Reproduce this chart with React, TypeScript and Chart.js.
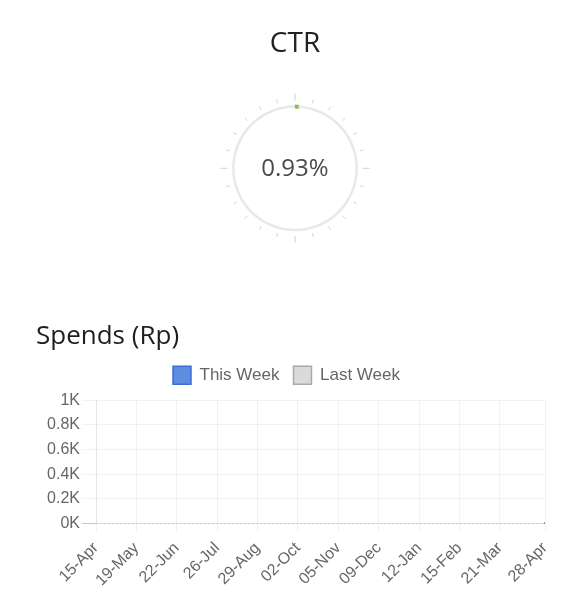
import { useEffect, useRef } from "react";
import { Chart, registerables } from "chart.js";

Chart.register(...registerables);

Chart.defaults.font.family = "'Liberation Sans', Arial, sans-serif";
Chart.defaults.color = "#666";

// gauge
const ctrTitle = "CTR";
const ctrValue = 0.93; // percent
const ctrMax = 100;

// spends chart
const spendsTitle = "Spends (Rp)";
const seriesNames = ["This Week", "Last Week"];
const tickLabels = [
  "15-Apr", "19-May", "22-Jun", "26-Jul", "29-Aug", "02-Oct",
  "05-Nov", "09-Dec", "12-Jan", "15-Feb", "21-Mar", "28-Apr",
];
// days since 15-Apr for each date label
const tickDays = [0, 34, 68, 102, 136, 170, 204, 238, 272, 306, 340, 378];
const thisWeek = [0, 0, 0, 0, 0, 0, 0, 0, 0, 0, 0, 0];
const lastWeek = [0, 0, 0, 0, 0, 0, 0, 0, 0, 0, 0, 0];
const yMax = 1000;
const yStep = 200;

const BLUE_FILL = "#5b8ee0";
const BLUE_LINE = "#3a6fd6";
const GREY_FILL = "#dadada";
const GREY_LINE = "#aaaaaa";

const gaugeDecor = {
  id: "gaugeDecor",
  afterDraw(chart: any) {
    const arc = chart.getDatasetMeta(0).data[0];
    if (!arc) return;
    const { x, y, outerRadius, innerRadius } = arc.getProps(
      ["x", "y", "outerRadius", "innerRadius"],
      true
    );
    const r = (outerRadius + innerRadius) / 2;
    const ctx = chart.ctx;
    ctx.save();
    ctx.strokeStyle = "#d2d2d2";
    ctx.lineWidth = 1;
    for (let i = 0; i < 24; i++) {
      const a = -Math.PI / 2 + (i * Math.PI) / 12;
      const major = i % 6 === 0;
      const r1 = r + (major ? 6 : 5.5);
      const r2 = r + (major ? 13 : 9.5);
      ctx.beginPath();
      ctx.moveTo(x + Math.cos(a) * r1, y + Math.sin(a) * r1);
      ctx.lineTo(x + Math.cos(a) * r2, y + Math.sin(a) * r2);
      ctx.stroke();
    }
    ctx.fillStyle = "#4a4a4a";
    ctx.font = "24px 'Open Sans'";
    ctx.textAlign = "center";
    ctx.textBaseline = "middle";
    ctx.fillText(`${ctrValue}%`, x, y + 1);
    ctx.restore();
  },
};

// a little more room under the legend, and nudge it left
const legendSpacing = {
  id: "legendSpacing",
  beforeInit(chart: any) {
    const legend = chart.legend;
    if (!legend) return;
    const fit = legend.fit;
    legend.fit = function () {
      fit.call(this);
      this.height += 6;
      if (this.lineWidths) this.lineWidths[0] += 8;
    };
  },
};

function CtrGauge() {
  const ref = useRef<HTMLCanvasElement>(null);
  useEffect(() => {
    if (!ref.current) return;
    const chart = new Chart(ref.current, {
      type: "doughnut",
      data: {
        labels: ["CTR", "Rest"],
        datasets: [
          {
            data: [ctrValue, ctrMax - ctrValue],
            backgroundColor: ["#8cc152", "#e8e8e8"],
            borderColor: ["#8cc152", "#e8e8e8"],
            borderWidth: [1.5, 0],
          },
        ],
      },
      options: {
        animation: false,
        responsive: true,
        maintainAspectRatio: false,
        cutout: "96%",
        layout: { padding: { left: 6, right: 0, top: 0, bottom: 56 } },
        plugins: {
          legend: { display: false },
          tooltip: { enabled: false },
          title: {
            display: true,
            text: ctrTitle,
            color: "#222",
            font: { family: "'Open Sans'", size: 28, weight: "normal" },
            padding: { top: 19, bottom: 44 },
          },
        },
      },
      plugins: [gaugeDecor],
    });
    return () => chart.destroy();
  }, []);
  return (
    <div style={{ position: "relative", height: 280 }}>
      <canvas ref={ref} />
    </div>
  );
}

function SpendsChart() {
  const ref = useRef<HTMLCanvasElement>(null);
  useEffect(() => {
    if (!ref.current) return;
    const lastIdx = tickDays.length - 1;
    const chart = new Chart(ref.current, {
      type: "line",
      data: {
        datasets: [
          {
            label: seriesNames[0],
            data: tickDays.map((d, i) => ({ x: d, y: thisWeek[i] })),
            borderColor: "rgba(90,130,210,0.35)",
            backgroundColor: BLUE_FILL,
            borderWidth: 1,
            borderDash: [2, 2],
            pointRadius: (c: any) => (c.dataIndex === lastIdx ? 1.5 : 0),
            pointBackgroundColor: "#5a6f9a",
            pointBorderWidth: 0,
            fill: false,
          },
          {
            label: seriesNames[1],
            data: tickDays.map((d, i) => ({ x: d, y: lastWeek[i] })),
            borderColor: "rgba(200,200,200,0.2)",
            backgroundColor: GREY_FILL,
            borderWidth: 1,
            pointRadius: 0,
            fill: false,
          },
        ],
      },
      options: {
        animation: false,
        responsive: true,
        maintainAspectRatio: false,
        layout: { padding: { left: 28, right: 31, top: 0, bottom: 11 } },
        plugins: {
          tooltip: { enabled: false },
          title: {
            display: true,
            text: spendsTitle,
            align: "start",
            color: "#1e1e1e",
            font: { family: "'Open Sans'", size: 26, weight: "normal" },
            padding: { top: 33, bottom: 0 },
          },
          legend: {
            labels: {
              boxWidth: 18,
              boxHeight: 18,
              padding: 14,
              color: "#666",
              font: { size: 17 },
              generateLabels: () =>
                seriesNames.map((name, i) => ({
                  text: name,
                  fillStyle: i === 0 ? BLUE_FILL : GREY_FILL,
                  strokeStyle: i === 0 ? BLUE_LINE : GREY_LINE,
                  fontColor: "#666",
                  lineWidth: 1.5,
                  lineDash: [],
                  hidden: false,
                  datasetIndex: i,
                })),
            },
          },
        },
        scales: {
          x: {
            type: "linear",
            min: tickDays[0],
            max: tickDays[lastIdx],
            afterBuildTicks: (axis: any) => {
              axis.ticks = tickDays.map((v) => ({ value: v }));
            },
            ticks: {
              autoSkip: false,
              minRotation: 45,
              maxRotation: 45,
              padding: 7,
              color: "#666",
              font: { size: 16 },
              callback: (v: any) => tickLabels[tickDays.indexOf(Number(v))] ?? "",
            },
            grid: { color: "rgba(0,0,0,0.05)", tickLength: 8 },
            border: { color: "rgba(0,0,0,0.05)" },
          },
          y: {
            min: 0,
            max: yMax,
            afterFit: (axis: any) => {
              axis.width = 60;
            },
            ticks: {
              stepSize: yStep,
              padding: 2,
              color: "#666",
              font: { size: 16 },
              callback: (v: any) => `${Number(v) / 1000}K`,
            },
            grid: {
              color: "rgba(0,0,0,0.05)",
              tickLength: 14,
              tickColor: (c: any) =>
                c.tick && c.tick.value === 0 ? "#c8c8c8" : "rgba(0,0,0,0.05)",
            },
            border: { color: "rgba(0,0,0,0.06)" },
          },
        },
      },
      plugins: [legendSpacing],
    });
    return () => chart.destroy();
  }, []);
  return (
    <div style={{ position: "relative", height: 320 }}>
      <canvas ref={ref} />
    </div>
  );
}

export default function App() {
  return (
    <div style={{ width: 568 }}>
      <CtrGauge />
      <SpendsChart />
    </div>
  );
}
